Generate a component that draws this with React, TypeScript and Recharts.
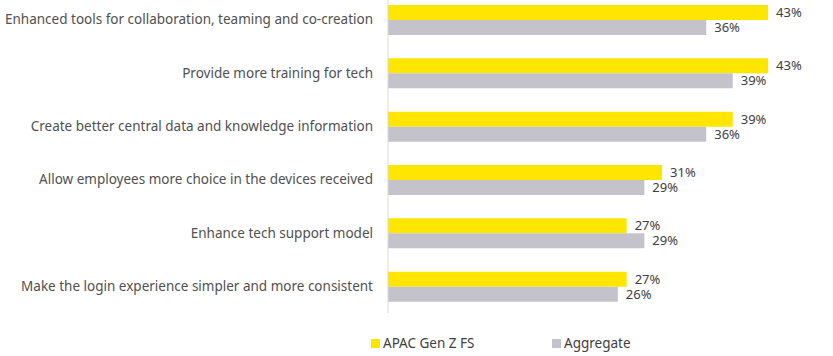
import { BarChart, Bar, XAxis, YAxis, Legend, LabelList } from 'recharts';

const categories = [
  'Enhanced tools for collaboration, teaming and co-creation',
  'Provide more training for tech',
  'Create better central data and knowledge information',
  'Allow employees more choice in the devices received',
  'Enhance tech support model',
  'Make the login experience simpler and more consistent',
];
const apacGenZ = [43, 43, 39, 31, 27, 27];
const aggregate = [36, 39, 36, 29, 29, 26];

const data = categories.map((name, i) => ({ name, apac: apacGenZ[i], agg: aggregate[i] }));

const YELLOW = '#FFE600';
const GREY = '#C4C3CC';
const FONT = '"Noto Sans", sans-serif';

function LegendContent() {
  const item = (color: string, label: string, left: number) => (
    <div style={{ position: 'absolute', left, top: 0, display: 'flex', alignItems: 'center', height: 20 }}>
      <span style={{ width: 9, height: 9, background: color, display: 'inline-block', marginRight: 3 }} />
      <span style={{ fontSize: 13.5, color: '#404040', fontFamily: FONT }}>{label}</span>
    </div>
  );
  return (
    <div style={{ position: 'relative', height: 20 }}>
      {item(YELLOW, 'APAC Gen Z FS', 371)}
      {item(GREY, 'Aggregate', 552)}
    </div>
  );
}

export default function App() {
  return (
    <div style={{ position: 'absolute', left: 0, top: -7 }}>
      <BarChart
        width={833}
        height={363}
        data={data}
        layout="vertical"
        margin={{ top: 0, right: 3, bottom: 23, left: 0 }}
        barGap={0}
        barCategoryGap={12}
      >
        <XAxis type="number" domain={[0, 50]} hide />
        <YAxis
          type="category"
          dataKey="name"
          width={388}
          axisLine={{ stroke: '#D9D9D9' }}
          tickLine={false}
          interval={0}
          tick={{ fontSize: 13.5, fill: '#505050', fontFamily: FONT }}
          tickMargin={9}
        />
        <Legend verticalAlign="bottom" content={<LegendContent />} wrapperStyle={{ left: 0, width: 833, bottom: 3, height: 20 }} />
        <Bar dataKey="apac" fill={YELLOW} barSize={15} isAnimationActive={false}>
          <LabelList dataKey="apac" position="right" offset={8} formatter={(v: number) => `${v}%`} style={{ fontSize: 13, fill: '#404040', fontFamily: FONT }} />
        </Bar>
        <Bar dataKey="agg" fill={GREY} barSize={15} isAnimationActive={false}>
          <LabelList dataKey="agg" position="right" offset={8} formatter={(v: number) => `${v}%`} style={{ fontSize: 13, fill: '#404040', fontFamily: FONT }} />
        </Bar>
      </BarChart>
    </div>
  );
}
